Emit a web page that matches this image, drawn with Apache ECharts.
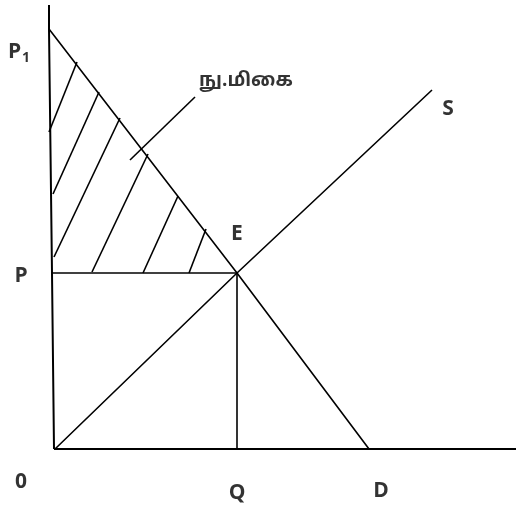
<!DOCTYPE html>
<html>
<head>
<meta charset="utf-8">
<script src="https://cdn.jsdelivr.net/npm/echarts@6/dist/echarts.min.js"></script>
<style>
  html, body { margin: 0; background: #fff; }
  #chart { width: 516px; height: 512px; }
</style>
</head>
<body>
<div id="chart"></div>
<script>
// diagram values, measured from the origin 0 (quantity right, price up)
var demandCurve = [[-6, 420], [182, 176], [314, 0]];      // P1 -> E -> D
var supplyCurve = [[0, 0], [182, 176], [377, 359]];       // 0 -> E -> S
var priceAxis = [[-1, 0], [-3, 176], [-6, 420], [-6, 444]];
var quantityAxis = [[-1, 0], [461, 0]];
var priceLine = [[-3, 176], [182, 176]];                  // P -> E
var quantityLine = [[182, 176], [182, 0]];                // E -> Q
var hatchLines = [
    [[22, 387], [-6, 317]],
    [[44, 357], [-2, 255]],
    [[65, 331], [-1, 192]],
    [[93, 295], [37, 177]],
    [[123, 253], [88, 176]],
    [[151, 220], [134, 176]]
];
var leaderLine = [[75, 289], [140, 352]];

var pointNames = ['P1', 'P', '0', 'E', 'S', 'Q', 'D', 'நு.மிகை'];
var pointValues = [[-6, 420], [-3, 176], [0, 0], [182, 176], [377, 359], [182, 0], [314, 0], [140, 352]];

window.onload = function () {
    var chart = echarts.init(document.getElementById('chart'));

    var labelFont = '"Open Sans", Lato, sans-serif';
    var offsets = {
        'P1': [-30, 23],
        'P': [-31, 3],
        '0': [-34, 33],
        'E': [0, -39],
        'S': [16, 19],
        'Q': [0, 44],
        'D': [12, 42],
        'நு.மிகை': [51, -15]
    };

    var labelData = pointNames.map(function (name, i) {
        return {
            name: name,
            value: pointValues[i],
            label: { offset: offsets[name] }
        };
    });

    function lineSeries(data, width) {
        return {
            type: 'line',
            data: data,
            symbol: 'none',
            clip: false,
            silent: true,
            lineStyle: { color: '#000', width: width }
        };
    }

    var option = {
        animation: false,
        backgroundColor: '#fff',
        grid: { left: 40, right: 0, top: 5, bottom: 63, outerBoundsMode: 'none' },
        xAxis: {
            type: 'value',
            min: -15,
            max: 461,
            axisLine: { show: false },
            axisTick: { show: false },
            axisLabel: { show: false },
            splitLine: { show: false }
        },
        yAxis: {
            type: 'value',
            min: 0,
            max: 444,
            axisLine: { show: false },
            axisTick: { show: false },
            axisLabel: { show: false },
            splitLine: { show: false }
        },
        series: [
            lineSeries(priceAxis, 2),
            lineSeries(quantityAxis, 2),
            lineSeries(demandCurve, 1.6),
            lineSeries(supplyCurve, 1.6),
            lineSeries(priceLine, 1.6),
            lineSeries(quantityLine, 1.6),
            lineSeries(leaderLine, 1.6),
            {
                type: 'lines',
                coordinateSystem: 'cartesian2d',
                clip: false,
                silent: true,
                lineStyle: { color: '#000', width: 1.6, opacity: 1 },
                data: hatchLines.map(function (c) { return { coords: c }; })
            },
            {
                type: 'scatter',
                symbolSize: 0,
                clip: false,
                silent: true,
                data: labelData,
                label: {
                    show: true,
                    position: 'inside',
                    color: '#000',
                    fontFamily: labelFont,
                    fontWeight: 'bold',
                    fontSize: 21,
                    formatter: function (p) {
                        if (p.name === 'P1') return '{p|P}{s|1}';
                        if (p.name === 'நு.மிகை') return '{t|' + p.name + '}';
                        return p.name;
                    },
                    rich: {
                        p: { fontFamily: labelFont, fontWeight: 'bold', fontSize: 21, color: '#000' },
                        s: { fontFamily: labelFont, fontWeight: 'bold', fontSize: 14, color: '#000', padding: [12, 0, 0, 1] },
                        t: { fontFamily: '"Noto Sans Tamil", "Noto Sans", sans-serif', fontWeight: 'bold', fontSize: 19, color: '#000' }
                    }
                }
            }
        ]
    };

    chart.setOption(option);
};
</script>
</body>
</html>
